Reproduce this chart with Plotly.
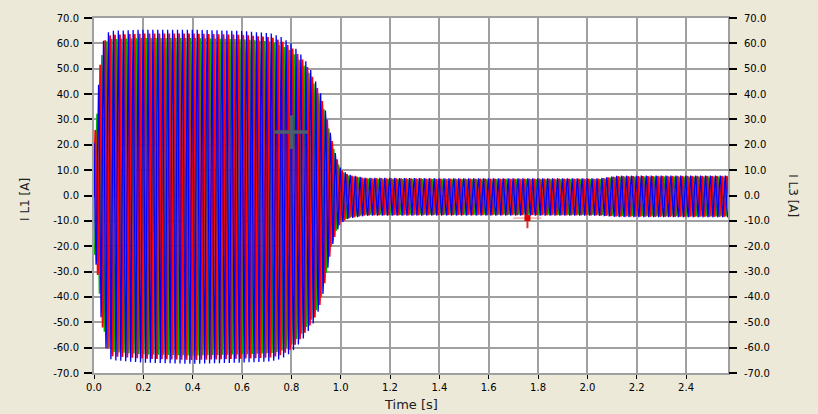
import numpy as np
import plotly.graph_objects as go

# Peak envelope of the motor starting current (A) at selected instants (s)
env_t = [0.000, 0.008, 0.016, 0.024, 0.034, 0.050, 0.070, 0.200, 0.400, 0.600,
         0.720, 0.760, 0.800, 0.845, 0.872, 0.892, 0.920, 0.940, 0.960, 0.980,
         1.000, 1.030, 1.100, 1.400, 1.700, 2.050, 2.120, 2.400, 2.570]
env_hi = [24.0, 28.0, 40.0, 52.0, 60.0, 64.0, 65.0, 65.5, 65.5, 65.0,
          64.0, 62.5, 60.0, 55.0, 51.0, 46.5, 40.0, 33.0, 24.0, 16.0,
          10.5, 8.3, 7.0, 6.8, 6.8, 6.8, 7.8, 7.9, 7.9]
env_lo = [-24.0, -27.0, -33.0, -44.0, -53.0, -61.0, -65.0, -66.0, -66.5, -66.0,
          -65.5, -64.5, -62.0, -57.0, -53.0, -50.0, -43.0, -33.0, -22.0, -15.0,
          -11.0, -9.2, -8.0, -7.9, -7.9, -8.0, -8.5, -8.6, -8.6]

# Phases, in drawing order
phase_names = ["I L2", "I L1", "I L3"]
phase_colors = ["#00B000", "#FF0000", "#0000FF"]
phase_widths = [1.5, 1.8, 1.3]
phase_shift_deg = [-120.0, 0.0, 120.0]
phase_scale = [0.95, 0.975, 1.0]

f_mains = 50.0      # Hz
fs = 2000.0         # samples per second
t_end = 2.57        # s

# Cursor readouts
cursor_t = [0.80]
cursor_val = [25.0]
marker_t = [1.757]
marker_val = [-8.9]

x_tickvals = [0.0, 0.2, 0.4, 0.6, 0.8, 1.0, 1.2, 1.4, 1.6, 1.8, 2.0, 2.2, 2.4]
x_ticktext = ["0.0", "0.2", "0.4", "0.6", "0.8", "1.0", "1.2", "1.4", "1.6",
              "1.8", "2.0", "2.2", "2.4"]
y_tickvals = [70, 60, 50, 40, 30, 20, 10, 0, -10, -20, -30, -40, -50, -60, -70]
y_ticktext = ["70.0", "60.0", "50.0", "40.0", "30.0", "20.0", "10.0", "0.0",
              "-10.0", "-20.0", "-30.0", "-40.0", "-50.0", "-60.0", "-70.0"]

t = np.arange(0.0, t_end, 1.0 / fs)
hi = np.interp(t, env_t, env_hi)
lo = np.interp(t, env_t, env_lo)
mid = (hi + lo) / 2.0
half = (hi - lo) / 2.0

fig = go.Figure()
for name, color, width, shift, scale in zip(phase_names, phase_colors,
                                            phase_widths, phase_shift_deg,
                                            phase_scale):
    y = mid + scale * half * np.sin(2 * np.pi * f_mains * t + np.deg2rad(shift))
    fig.add_trace(go.Scatter(x=t, y=y, mode="lines", name=name,
                             line=dict(color=color, width=width),
                             hoverinfo="skip", showlegend=False))

# Crosshair cursor
fig.add_trace(go.Scatter(
    x=cursor_t, y=cursor_val, mode="markers", yaxis="y2", showlegend=False,
    marker=dict(symbol="cross-thin", size=24,
                line=dict(color="#4B5E6E", width=3.5)),
    hoverinfo="skip"))

# Red readout marker with its guide lines
fig.add_trace(go.Scatter(
    x=marker_t, y=marker_val, mode="markers", showlegend=False,
    marker=dict(symbol="square", size=6, color="#E00000"),
    error_x=dict(type="constant", value=0.057, color="#F08080",
                 thickness=1, width=0),
    error_y=dict(type="data", symmetric=False, array=[0.0], arrayminus=[4.0],
                 color="#E03030", thickness=2, width=0),
    hoverinfo="skip"))

grid = "#A0A0A0"
tick_font = dict(family="DejaVu Sans", size=10, color="#000000")

fig.update_layout(
    width=818, height=414,
    margin=dict(l=94, r=90, t=16, b=41),
    paper_bgcolor="#ECE9D8",
    plot_bgcolor="#FFFFFF",
    showlegend=False,
    xaxis=dict(range=[0.0, t_end], tickvals=x_tickvals, ticktext=x_ticktext,
               ticks="outside", ticklen=4, tickwidth=1, tickcolor="#000000",
               tickfont=tick_font, showgrid=True, gridcolor=grid, gridwidth=2,
               zeroline=False, showline=True, mirror=True, linecolor=grid,
               linewidth=2),
    yaxis=dict(range=[-70, 70], tickvals=y_tickvals, ticktext=y_ticktext,
               ticks="outside", ticklen=8, tickwidth=1.5, tickcolor="#000000",
               tickfont=tick_font, ticklabelstandoff=3,
               showgrid=True, gridcolor=grid, gridwidth=2,
               zeroline=False, showline=True, mirror=True, linecolor=grid,
               linewidth=2),
    yaxis2=dict(range=[-70, 70], tickvals=y_tickvals, ticktext=y_ticktext,
                overlaying="y", side="right", ticks="outside", ticklen=8,
                tickwidth=1.5, tickcolor="#000000", tickfont=tick_font,
                ticklabelstandoff=5,
                showgrid=False, zeroline=False, showline=False),
    annotations=[
        dict(text="I L1 [A]", xref="paper", yref="paper", x=-0.109, y=0.49,
             xanchor="center", yanchor="middle", textangle=-90, showarrow=False,
             font=dict(family="DejaVu Sans", size=12, color="#202020")),
        dict(text="I L3 [A]", xref="paper", yref="paper", x=1.103, y=0.50,
             xanchor="center", yanchor="middle", textangle=90, showarrow=False,
             font=dict(family="DejaVu Sans", size=12, color="#202020")),
        dict(text="Time [s]", xref="paper", yref="paper", x=0.5, y=-0.0885,
             xanchor="center", yanchor="middle", showarrow=False,
             font=dict(family="DejaVu Sans", size=13, color="#202020")),
    ],
)

fig.write_html("out.html")
